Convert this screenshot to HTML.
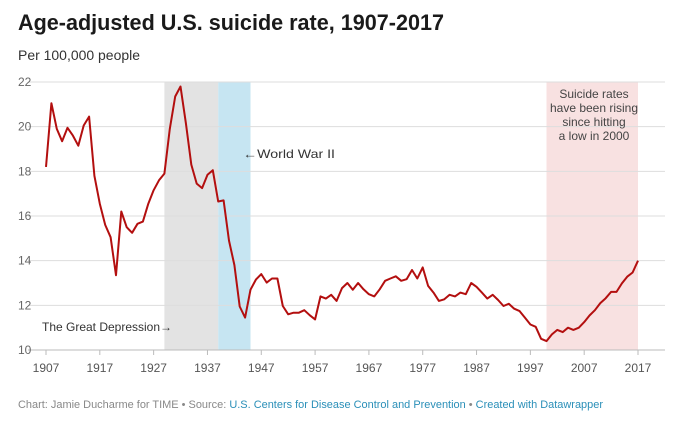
<!DOCTYPE html>
<html><head><meta charset="utf-8"><style>
body{margin:0;background:#fff;width:676px;height:424px;overflow:hidden;font-family:"Liberation Sans",sans-serif}
</style></head><body>
<svg id="chart" width="676" height="424" xmlns="http://www.w3.org/2000/svg" font-family="Liberation Sans, sans-serif">
<text x="18" y="30" font-size="22" font-weight="bold" fill="#1a1a1a" textLength="426" lengthAdjust="spacingAndGlyphs">Age-adjusted U.S. suicide rate, 1907-2017</text>
<text x="18" y="60" font-size="13.5" fill="#333" textLength="122" lengthAdjust="spacingAndGlyphs">Per 100,000 people</text>
<g id="bands"></g>
<g id="grid"></g>
<g id="xaxis"></g>
<g id="series"></g>
<text x="42" y="331" font-size="12" fill="#333" textLength="130" lengthAdjust="spacingAndGlyphs">The Great Depression→</text>
<text x="243" y="158" font-size="12" fill="#333" textLength="92" lengthAdjust="spacingAndGlyphs">←World War II</text>
<g font-size="12" fill="#444" text-anchor="middle">
<text x="594" y="98">Suicide rates</text>
<text x="594" y="112">have been rising</text>
<text x="594" y="126">since hitting</text>
<text x="594" y="140">a low in 2000</text>
</g>
<text x="18" y="408" font-size="11" fill="#888" textLength="585" lengthAdjust="spacingAndGlyphs">Chart: Jamie Ducharme for TIME • Source: <tspan fill="#2a8fb8">U.S. Centers for Disease Control and Prevention</tspan> • <tspan fill="#2a8fb8">Created with Datawrapper</tspan></text>
</svg>
<script>
const years=[];for(let y=1907;y<=2017;y++)years.push(y);
const rates=[18.2,21.05,19.9,19.35,19.95,19.6,19.15,20.05,20.45,17.8,16.55,15.6,15.05,13.35,16.2,15.5,15.25,15.65,15.75,16.55,17.15,17.6,17.9,19.9,21.35,21.8,20.15,18.3,17.45,17.25,17.85,18.05,16.65,16.7,14.9,13.8,11.95,11.45,12.7,13.15,13.4,13.02,13.2,13.2,11.97,11.6,11.67,11.67,11.78,11.56,11.37,12.4,12.3,12.47,12.2,12.77,13.0,12.7,13.0,12.72,12.5,12.4,12.72,13.1,13.2,13.3,13.1,13.17,13.58,13.2,13.7,12.87,12.57,12.2,12.27,12.47,12.4,12.57,12.5,13.0,12.83,12.57,12.3,12.47,12.24,11.97,12.07,11.85,11.74,11.44,11.14,11.04,10.5,10.4,10.7,10.9,10.8,11.0,10.9,11.0,11.25,11.55,11.78,12.1,12.32,12.6,12.6,12.98,13.28,13.47,14.0];
const yTicks=[10,12,14,16,18,20,22];
const xTicks=[1907,1917,1927,1937,1947,1957,1967,1977,1987,1997,2007,2017];
const bandStarts=[1929,1939,2000];
const bandEnds=[1939,1945,2017];
const bandNames=['great-depression-band','world-war-ii-band','rising-rates-band'];
const bandColors=['#e3e3e3','#c6e5f2','#f8e1e1'];
const NS='http://www.w3.org/2000/svg';
const X=y=>46+(y-1907)*(592/110);
const Y=v=>350-(v-10)*(268/12);
function mk(t,a,p){const e=document.createElementNS(NS,t);for(const k in a)e.setAttribute(k,a[k]);document.getElementById(p).appendChild(e);return e;}
bandStarts.forEach((s,i)=>{const r=mk('rect',{x:X(s),y:Y(22),width:X(bandEnds[i])-X(s),height:Y(10)-Y(22),fill:bandColors[i]},'bands');

});
yTicks.forEach(v=>{const l=mk('line',{x1:28,x2:665,y1:Y(v),y2:Y(v),stroke:v===10?'#bbb':'#ddd','stroke-width':1},'grid');


const t=mk('text',{x:18,y:Y(v)+4,'font-size':12,fill:'#666'},'grid');t.textContent=v;

});
xTicks.forEach(y=>{const l=mk('line',{x1:X(y),x2:X(y),y1:350,y2:355,stroke:'#bbb'},'xaxis');


const t=mk('text',{x:X(y),y:372,'font-size':12,fill:'#555','text-anchor':'middle'},'xaxis');t.textContent=y;

});
const pts=years.map((y,i)=>X(y).toFixed(1)+','+Y(rates[i]).toFixed(1)).join(' ');
const pl=mk('polyline',{points:pts,fill:'none',stroke:'#b30f0f','stroke-width':2,'stroke-linejoin':'round'},'series');


</script>
</body></html>
